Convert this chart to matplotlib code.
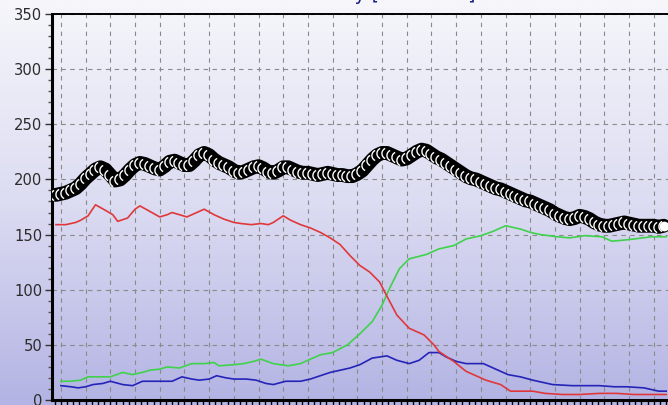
import numpy as np
import matplotlib
matplotlib.use("Agg")
import matplotlib.pyplot as plt
from matplotlib.ticker import MultipleLocator
from matplotlib.colors import LinearSegmentedColormap
from matplotlib.path import Path as MPath


# ------------------------------------------------------------
# data (x in sample units, 10 units per grid column)
# ------------------------------------------------------------

TOTAL_X0 = -2
TOTAL_STEP = 2
TOTAL = [
    186, 187, 188, 190, 192, 196, 201, 205, 209, 211,
    209, 204, 199, 200, 204, 209, 213, 215, 214, 212,
    210, 209, 212, 216, 217, 215, 213, 213, 217, 222,
    224, 222, 218, 215, 213, 211, 208, 206, 207, 209,
    211, 212, 210, 207, 206, 208, 211, 211, 209, 207,
    206, 206, 205, 204, 205, 206, 205, 204, 204, 203,
    203, 205, 208, 213, 218, 222, 224, 224, 222, 220,
    218, 219, 222, 225, 227, 226, 223, 220, 218, 215,
    212, 209, 206, 203, 201, 200, 198, 196, 194, 192,
    191, 189, 187, 185, 183, 181, 180, 178, 176, 174,
    172, 169, 167, 165, 164, 165, 167, 166, 164, 161,
    159, 158, 158, 159, 160, 161, 160, 159, 158, 158,
    158, 158, 157, 158,
]

RED_X = [-2, 2, 6, 8, 11, 14, 18, 21, 23, 27, 30, 32, 36, 40, 43, 45, 48,
         51, 54, 58, 62, 66, 70, 73, 77, 81, 84, 86, 90, 93, 97, 101, 105,
         109, 113, 117, 121, 125, 129, 132, 136, 141, 147, 151, 153, 159,
         164, 168, 172, 178, 182, 186, 191, 196, 203, 210, 218, 225, 232,
         239, 245]
RED = [159, 159, 161, 163, 167, 177, 172, 168, 162, 165, 173, 176, 171, 166,
       168, 170, 168, 166, 169, 173, 168, 164, 161, 160, 159, 160, 159, 161,
       167, 163, 159, 156, 152, 147, 141, 131, 122, 116, 107, 94, 77, 65,
       59, 50, 44, 35, 26, 22, 18, 14, 8, 8, 8, 6, 5, 5, 6, 6, 5, 5, 5]

GREEN_X = [0, 4, 8, 11, 15, 20, 25, 29, 33, 36, 40, 43, 48, 53, 58, 62,
           64, 70, 74, 78, 81, 86, 92, 97, 101, 105, 110, 116, 121, 126,
           130, 133, 137, 141, 148, 153, 159, 164, 170, 175, 180, 186, 190,
           194, 201, 206, 212, 219, 223, 228, 232, 239, 245]
GREEN = [17, 17, 18, 21, 21, 21, 25, 23, 25, 27, 28, 30, 29, 33, 33, 34,
         31, 32, 33, 35, 37, 33, 31, 33, 37, 41, 43, 50, 60, 71, 86, 101,
         119, 128, 132, 137, 140, 146, 149, 153, 158, 155, 152, 150, 148,
         147, 149, 148, 144, 145, 146, 148, 148]

BLUE_X = [0, 4, 7, 10, 13, 17, 20, 25, 29, 33, 38, 45, 49, 53, 56, 60,
          63, 67, 70, 75, 79, 83, 86, 91, 97, 101, 105, 109, 113, 117,
          121, 126, 132, 136, 141, 145, 149, 153, 156, 160, 164, 171, 175,
          181, 186, 191, 199, 207, 218, 224, 229, 236, 242, 245]
BLUE = [13, 12, 11, 12, 14, 15, 17, 14, 13, 17, 17, 17, 21, 19, 18, 19,
        22, 20, 19, 19, 18, 15, 14, 17, 17, 19, 22, 25, 27, 29, 32, 38,
        40, 36, 33, 36, 43, 43, 39, 35, 33, 33, 29, 23, 21, 18, 14, 13,
        13, 12, 12, 11, 8, 8]


# ------------------------------------------------------------
# figure
# ------------------------------------------------------------

fig = plt.figure(figsize=(6.68, 4.05), dpi=100)

# vertical lavender gradient behind everything
bg = fig.add_axes([0, 0, 1, 1], zorder=0)
grad_cmap = LinearSegmentedColormap.from_list(
    "lavender", ["#f6f6fb", "#dcdcf2", "#b3b3e4"]
)
bg.imshow(np.linspace(0, 1, 256).reshape(-1, 1), aspect="auto",
          cmap=grad_cmap, extent=[0, 1, 0, 1])
bg.set_axis_off()

W, H = 668, 405
ax = fig.add_axes([52 / W, 5 / H, (680 - 52) / W, (391 - 5) / H], zorder=1)
ax.set_facecolor("none")

ax.set_xlim(-3.6, 250.6)
ax.set_ylim(0, 350)

grid_kw = dict(color="#8a8a8a", linewidth=0.8, dashes=(4, 4))
ax.xaxis.set_major_locator(MultipleLocator(10))
ax.xaxis.set_minor_locator(MultipleLocator(2.5))
ax.yaxis.set_major_locator(MultipleLocator(50))
ax.yaxis.set_minor_locator(MultipleLocator(10))
ax.grid(True, which="major", **grid_kw)
ax.set_axisbelow(True)

ax.plot(BLUE_X, BLUE, color="#2424b8", linewidth=1.2, zorder=3)
ax.plot(GREEN_X, GREEN, color="#3fd24a", linewidth=1.2, zorder=3)
ax.plot(RED_X, RED, color="#e0383a", linewidth=1.2, zorder=3)

# total: thick black band, each sample marked by a thin white arc
total_x = TOTAL_X0 + TOTAL_STEP * np.arange(len(TOTAL))
theta = np.linspace(np.radians(115), np.radians(245), 12)
arc = MPath(np.column_stack([np.cos(theta), np.sin(theta)]))

ax.plot(total_x, TOTAL, color="black", linewidth=10,
        solid_capstyle="round", zorder=4)
ax.plot(total_x, TOTAL, linestyle="none", marker=arc, markersize=8,
        markerfacecolor="none", markeredgecolor="white",
        markeredgewidth=1.0, zorder=5)
ax.plot(total_x[-1], TOTAL[-1], linestyle="none", marker="o",
        markersize=6, color="white", zorder=6)

for side in ("left", "bottom"):
    ax.spines[side].set_linewidth(2.2)
ax.spines["top"].set_linewidth(1.4)
ax.spines["right"].set_visible(False)

ax.tick_params(axis="y", which="major", length=5, width=1, color="#333333",
               labelsize=10.6, labelcolor="#2b2b2b", pad=2)
ax.tick_params(axis="y", which="minor", length=3, width=1, color="#555555")
ax.tick_params(axis="x", which="both", length=4, width=1, color="black",
               labelbottom=False)

fig.text(476 / W, 1 - 0.5 / H, "Intensity [arb. units]", ha="right",
         va="baseline", fontsize=13.5, color="#1c1c86")

fig.savefig("out.png", dpi=100)
